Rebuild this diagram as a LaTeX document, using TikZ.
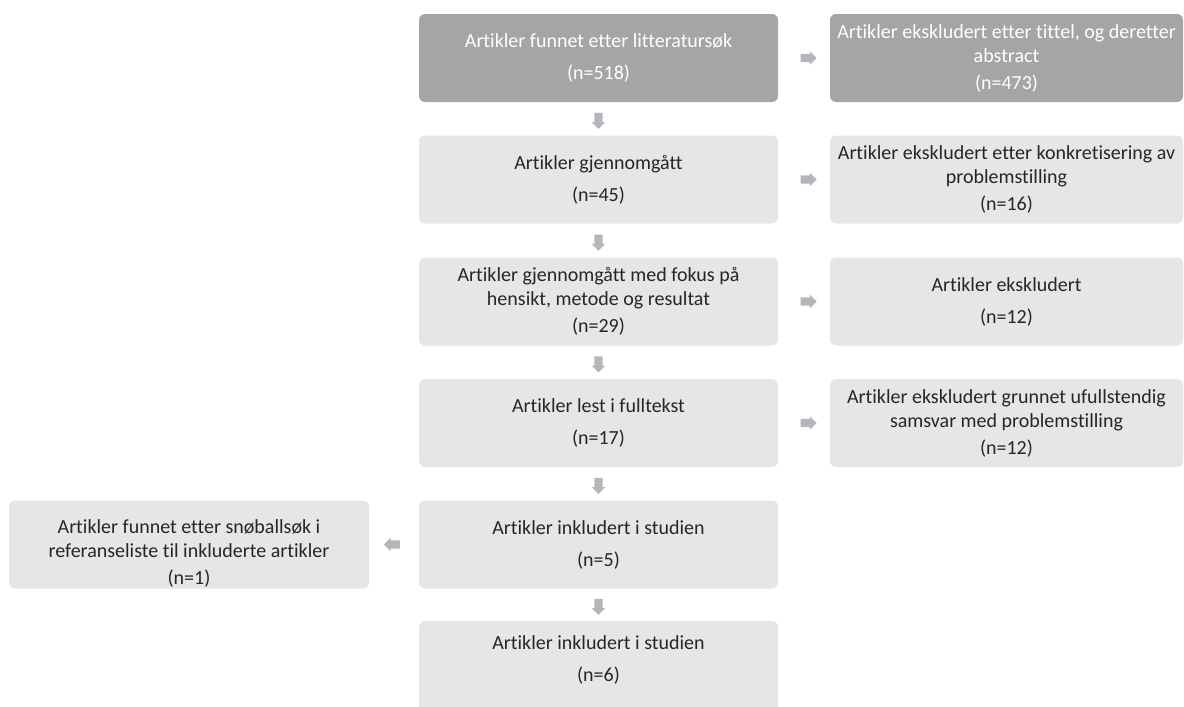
\documentclass[tikz,border=0pt]{standalone}
\usepackage{fontspec}
\setmainfont{Carlito}[Ligatures={NoCommon}]
\usetikzlibrary{shapes.arrows,calc}
\definecolor{boxdark}{HTML}{A5A5A5}
\definecolor{boxlight}{HTML}{E7E6E6}
\definecolor{arrowgray}{HTML}{B4B6BB}
\definecolor{txt}{HTML}{262626}
\begin{document}
\begin{tikzpicture}[x=1pt,y=-1pt,
  box/.style={rounded corners=6pt, minimum height=88pt, align=center,
    font=\fontsize{20}{24}\selectfont, inner sep=0pt, text=txt, fill=boxlight},
  midbox/.style={box, minimum width=359pt},
  rightbox/.style={box, minimum width=353pt},
  darkbox/.style={fill=boxdark, text=white},
  blockarrow/.style={single arrow, fill=arrowgray, draw=none,
    minimum height=16pt, single arrow head extend=2.5pt,
    inner sep=0pt}]
\useasboundingbox (0,0) rectangle (1184,707);
\clip (0,0) rectangle (1184,707);

\node[midbox,darkbox] (a1) at (598.5,58) {Artikler funnet etter litteratursøk\\[8pt](n=518)};
\node[rightbox,darkbox] (b1) at (1006.5,58) {Artikler ekskludert etter tittel, og deretter\\abstract\\[3pt](n=473)};
\node[midbox] (a2) at (598.5,179.5) {Artikler gjennomgått\\[8pt](n=45)};
\node[rightbox] (b2) at (1006.5,179.5) {Artikler ekskludert etter konkretisering av\\problemstilling\\[3pt](n=16)};
\node[midbox] (a3) at (598.5,301.5) {Artikler gjennomgått med fokus på\\hensikt, metode og resultat\\[3pt](n=29)};
\node[rightbox] (b3) at (1006.5,301.5) {Artikler ekskludert\\[8pt](n=12)};
\node[midbox] (a4) at (598.5,423) {Artikler lest i fulltekst\\[8pt](n=17)};
\node[rightbox] (b4) at (1006.5,423) {Artikler ekskludert grunnet ufullstendig\\samsvar med problemstilling\\[3pt](n=12)};
\node[midbox] (a5) at (598.5,544.5) {Artikler inkludert i studien\\[8pt](n=5)};
\node[box, minimum width=360pt] (c5) at (189,544.5) {\mbox{}\\[7pt]Artikler funnet etter snøballsøk i\\referanseliste til inkluderte artikler\\[3pt](n=1)};
\node[midbox, minimum height=92pt] (a6) at (598.5,667) {Artikler inkludert i studien\\[8pt](n=6)\\[-8pt]\mbox{}};

\foreach \u/\v in {a1/a2,a2/a3,a3/a4,a4/a5,a5/a6}
  \node[blockarrow, rotate=270] (d\u) at ($(\u.south)!0.5!(\v.north)$) {\rule{0pt}{8pt}};
\foreach \u/\v in {a1/b1,a2/b2,a3/b3,a4/b4}
  \node[blockarrow] (r\u) at ($(\u.east)!0.55!(\v.west)$) {\rule{0pt}{8pt}};
\node[blockarrow, rotate=180] (l5) at ($(a5.west)!0.5!(c5.east)$) {\rule{0pt}{8pt}};
\end{tikzpicture}
\end{document}
